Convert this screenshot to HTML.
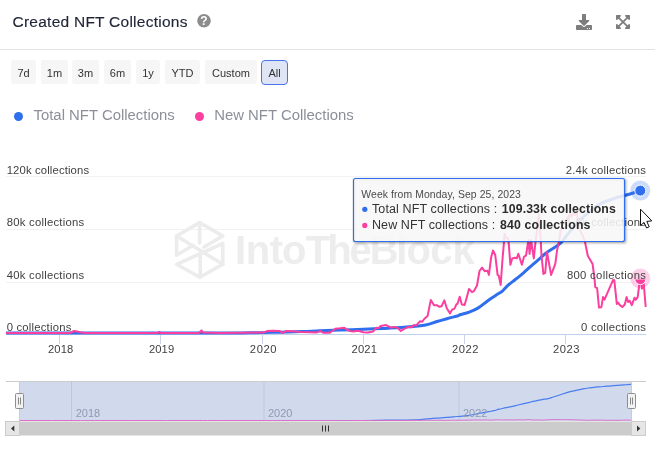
<!DOCTYPE html>
<html><head><meta charset="utf-8">
<style>
html,body{margin:0;padding:0;background:#fff;}
body{width:655px;height:464px;overflow:hidden;position:relative;font-family:"Liberation Sans",sans-serif;color:#333;}
.title{position:absolute;left:12.5px;top:12px;font-size:15.5px;letter-spacing:0.25px;color:#1f2437;line-height:20px;white-space:nowrap;-webkit-text-stroke:0.15px #1f2437;}
.hr{position:absolute;left:0;top:49px;width:655px;height:1px;background:#e3e3e3;}
.btn{position:absolute;top:60px;height:24px;line-height:27px;font-size:11px;color:#333;background:#f6f6f6;border-radius:3px;text-align:center;}
.btn.act{background:#e0e5f5;border:1.5px solid #4a74ee;box-sizing:border-box;line-height:25px;top:59.5px;height:25px;border-radius:4px;}
.leg{position:absolute;top:105.7px;font-size:14.9px;color:#8c8f98;line-height:18px;white-space:nowrap;}
.dot{position:absolute;width:9px;height:9px;border-radius:50%;top:112px;}
svg{position:absolute;left:0;top:0;}
</style></head><body>
<div class="title">Created NFT Collections</div>
<div class="hr"></div>
<div class="btn" style="left:11px;width:25px;">7d</div>
<div class="btn" style="left:41px;width:27px;">1m</div>
<div class="btn" style="left:72px;width:27px;">3m</div>
<div class="btn" style="left:104px;width:27px;">6m</div>
<div class="btn" style="left:136px;width:24px;">1y</div>
<div class="btn" style="left:165px;width:35px;">YTD</div>
<div class="btn" style="left:205px;width:52px;">Custom</div>
<div class="btn act" style="left:261px;width:27px;">All</div>
<div class="dot" style="left:14px;background:#2f6fed;"></div>
<div class="leg" style="left:33.5px;">Total NFT Collections</div>
<div class="dot" style="left:194.7px;background:#fa3f9f;"></div>
<div class="leg" style="left:214.2px;">New NFT Collections</div>
<svg width="655" height="464" viewBox="0 0 655 464" font-family="Liberation Sans, sans-serif">
<rect x="6" y="176" width="640" height="1" fill="#f1f2f4"/>
<rect x="6" y="229" width="640" height="1" fill="#f1f2f4"/>
<rect x="6" y="282" width="640" height="1" fill="#f1f2f4"/>
<g fill="none" stroke="#ececec" stroke-width="3.6" stroke-linejoin="round" stroke-linecap="round"><path d="M176.6 255 L176.6 236 L199.6 222.6 L222.8 236 L204 247"/><path d="M199.6 222.6 L199.6 243"/><path d="M176.6 236 L222.8 264.3"/><path d="M176.6 255 L193 245.5"/><path d="M176.6 264.3 L222.8 243.5 L222.8 264.3 L199.8 277.3 Z"/><path d="M200.2 255 L200.2 277.3"/></g>
<text y="264.1" font-size="40" font-weight="700" fill="#ededed" x="234.9 245.8 269.65 282 305.8 327.15 349.6 369.75 396.35 406.45 430.25 452.4">IntoTheBlock</text>
<rect x="6" y="334" width="640" height="1" fill="#c3d0ea"/>
<rect x="59" y="334" width="1" height="10" fill="#c9d4ec"/>
<rect x="160" y="334" width="1" height="10" fill="#c9d4ec"/>
<rect x="262" y="334" width="1" height="10" fill="#c9d4ec"/>
<rect x="363" y="334" width="1" height="10" fill="#c9d4ec"/>
<rect x="464" y="334" width="1" height="10" fill="#c9d4ec"/>
<rect x="565" y="334" width="1" height="10" fill="#c9d4ec"/>
<path d="M6.0 333.1 C38.3 333.1 159.3 333.1 200.0 333.1 C240.7 333.0 236.7 332.9 250.0 332.8 C263.3 332.7 271.2 332.4 280.0 332.2 C288.8 332.0 296.0 331.7 302.7 331.5 C309.4 331.3 313.8 331.0 320.0 330.8 C326.2 330.6 332.8 330.4 340.0 330.1 C347.2 329.9 356.4 329.6 363.5 329.3 C370.6 329.0 375.9 328.8 382.7 328.5 C389.4 328.2 396.9 327.9 404.0 327.3 C411.1 326.7 420.1 326.0 425.5 325.1 C430.9 324.2 432.6 322.9 436.2 321.8 C439.8 320.7 443.3 319.7 446.9 318.7 C450.4 317.7 455.3 316.6 457.5 316.0 C459.7 315.4 458.1 315.4 460.0 314.8 C461.9 314.2 466.1 313.4 469.2 312.2 C472.2 311.0 475.2 309.8 478.3 307.9 C481.4 306.0 484.4 303.2 487.5 301.0 C490.6 298.8 494.2 296.4 496.6 294.8 C499.0 293.2 500.3 292.8 502.1 291.3 C503.9 289.8 505.5 287.5 507.6 285.6 C509.8 283.7 512.2 281.9 515.0 279.7 C517.8 277.5 521.1 274.9 524.1 272.3 C527.1 269.7 530.5 266.6 533.3 264.2 C536.0 261.8 538.5 259.7 540.6 257.8 C542.7 255.9 543.7 254.8 546.1 253.0 C548.5 251.2 552.7 248.8 555.3 247.0 C557.9 245.2 559.0 244.8 561.7 241.9 C564.4 239.0 568.1 233.5 571.5 229.5 C574.9 225.5 578.4 221.4 582.0 218.0 C585.6 214.6 589.9 211.4 593.0 209.0 C596.1 206.6 597.0 205.4 600.9 203.5 C604.8 201.6 612.2 199.1 616.2 197.8 C620.2 196.5 620.9 196.7 625.0 195.5 C629.1 194.3 637.6 191.6 641.0 190.6 C644.4 189.6 644.8 189.8 645.5 189.6" fill="none" stroke="#2f6fed" stroke-width="3" stroke-linejoin="round" stroke-linecap="butt"/>
<path d="M6.0 333.0 L40.0 333.0 L70.0 333.0 L72.0 332.0 L74.0 331.0 L77.0 331.5 L81.0 332.5 L85.0 333.0 L120.0 333.0 L157.8 333.0 L159.3 331.9 L160.8 333.0 L199.0 333.0 L201.5 330.4 L203.0 332.6 L220.0 333.0 L240.0 332.8 L263.8 332.4 L267.5 331.0 L273.0 330.8 L279.4 331.0 L283.0 332.8 L285.8 331.1 L293.0 331.2 L300.5 331.9 L317.0 332.4 L320.6 331.1 L323.4 332.8 L329.8 332.8 L335.3 328.7 L340.0 328.3 L344.4 327.8 L346.3 329.3 L350.0 331.0 L353.6 331.6 L358.0 330.8 L363.5 332.2 L368.0 332.4 L373.1 331.6 L376.3 327.7 L378.5 328.1 L380.6 326.0 L386.0 325.1 L391.3 327.7 L394.5 326.9 L397.7 328.1 L400.9 330.9 L404.1 328.8 L408.4 326.9 L411.6 327.3 L413.7 325.1 L415.9 325.6 L420.1 321.3 L422.3 321.7 L424.4 318.7 L427.6 316.0 L430.8 299.9 L434.0 305.3 L437.2 305.3 L439.4 306.8 L441.5 306.3 L444.3 300.3 L446.9 308.5 L450.1 313.4 L452.2 309.5 L454.3 308.9 L456.5 304.2 L457.5 303.8 L459.7 296.7 L461.8 304.6 L464.6 305.0 L466.6 298.0 L469.0 288.9 L472.0 292.2 L474.0 291.0 L477.0 285.5 L479.5 271.0 L482.0 267.6 L484.7 271.2 L487.5 270.7 L488.9 274.9 L491.1 257.5 L493.0 250.5 L495.2 254.7 L497.6 274.9 L498.8 275.8 L500.7 285.0 L502.5 259.3 L504.0 241.9 L504.5 233.7 L506.0 238.0 L508.0 238.2 L508.6 241.9 L510.4 264.8 L512.2 258.4 L515.0 257.8 L516.8 258.4 L518.3 253.8 L521.9 264.8 L524.1 256.6 L526.0 255.6 L527.4 246.5 L528.5 240.0 L529.6 253.8 L531.1 240.0 L532.4 249.2 L533.8 258.4 L535.5 241.9 L539.0 214.4 L540.8 241.9 L541.5 255.6 L543.4 274.0 L545.2 273.0 L547.0 252.0 L551.1 274.9 L555.3 263.9 L557.1 250.2 L558.9 241.9 L560.8 230.0 L563.0 224.0 L566.5 220.0 L569.8 214.4 L571.5 217.0 L573.0 213.0 L575.0 215.0 L576.7 211.4 L578.0 222.0 L579.7 229.7 L582.8 235.8 L585.0 242.0 L587.8 255.7 L592.6 264.0 L594.7 280.6 L595.3 287.3 L597.1 287.9 L599.0 307.6 L601.4 307.2 L603.0 297.1 L604.5 299.6 L613.1 279.9 L614.3 280.2 L616.8 303.9 L618.0 302.6 L619.9 305.1 L622.3 307.0 L624.8 304.5 L626.6 297.1 L628.1 302.0 L629.7 300.8 L631.8 305.1 L634.6 297.7 L635.8 299.6 L637.7 297.1 L639.3 284.5 L640.0 281.0 L641.0 281.0 L642.0 288.5 L643.8 284.2 L645.7 307.0" fill="none" stroke="#fa3f9f" stroke-width="2" stroke-linejoin="round" stroke-linecap="butt"/>
<circle cx="640.3" cy="190.6" r="10" fill="#2f6fed" fill-opacity="0.25"/>
<circle cx="640.3" cy="190.6" r="5.5" fill="#2f6fed" stroke="#fff" stroke-width="1"/>
<circle cx="640.3" cy="278.5" r="10" fill="#fa3f9f" fill-opacity="0.25"/>
<clipPath id="cp"><rect x="630" y="279.4" width="20" height="10"/></clipPath>
<circle cx="640.3" cy="279" r="5.6" fill="#fa3f9f" stroke="#fff" stroke-width="1" clip-path="url(#cp)"/>
<text x="6.7" y="173.8" textLength="82.4" font-size="11.3" fill="#3f3f3f" lengthAdjust="spacing">120k collections</text>
<text x="6.7" y="225.8" textLength="77.5" font-size="11.3" fill="#3f3f3f" lengthAdjust="spacing">80k collections</text>
<text x="6.7" y="278.8" textLength="77.5" font-size="11.3" fill="#3f3f3f" lengthAdjust="spacing">40k collections</text>
<text x="6.7" y="330.7" textLength="64.6" font-size="11.3" fill="#3f3f3f" lengthAdjust="spacing">0 collections</text>
<text x="565.7" y="173.7" textLength="80.2" font-size="11.3" fill="#3f3f3f" lengthAdjust="spacing">2.4k collections</text>
<text x="565.7" y="225.8" textLength="80.2" font-size="11.3" fill="#3f3f3f" lengthAdjust="spacing">1.6k collections</text>
<text x="566.9" y="278.8" textLength="79.0" font-size="11.3" fill="#3f3f3f" lengthAdjust="spacing">800 collections</text>
<text x="581.1" y="330.6" textLength="64.8" font-size="11.3" fill="#3f3f3f" lengthAdjust="spacing">0 collections</text>
<text x="48.0" y="352.9" font-size="11.2" fill="#3f3f3f" textLength="25.3" lengthAdjust="spacing">2018</text>
<text x="148.9" y="352.9" font-size="11.2" fill="#3f3f3f" textLength="25.3" lengthAdjust="spacing">2019</text>
<text x="249.8" y="352.9" font-size="11.2" fill="#3f3f3f" textLength="26.8" lengthAdjust="spacing">2020</text>
<text x="351.6" y="352.9" font-size="11.2" fill="#3f3f3f" textLength="25.3" lengthAdjust="spacing">2021</text>
<text x="451.9" y="352.9" font-size="11.2" fill="#3f3f3f" textLength="26.6" lengthAdjust="spacing">2022</text>
<text x="553.0" y="352.9" font-size="11.2" fill="#3f3f3f" textLength="26.6" lengthAdjust="spacing">2023</text>
<rect x="354.5" y="179.5" width="271" height="63" rx="2" fill="none" stroke="#000" stroke-opacity="0.05" stroke-width="5"/>
<rect x="354.5" y="179.5" width="271" height="63" rx="2" fill="none" stroke="#000" stroke-opacity="0.09" stroke-width="3"/>
<rect x="354.5" y="179.5" width="271" height="63" rx="2" fill="none" stroke="#000" stroke-opacity="0.14" stroke-width="1"/>
<rect x="353.5" y="178.5" width="271" height="63" rx="2" fill="#f7f7f7" fill-opacity="0.88" stroke="#2f6fed" stroke-width="1.15"/>
<text x="361.3" y="198" font-size="10.4" fill="#4a4a4a" textLength="159.5" lengthAdjust="spacing">Week from Monday, Sep 25, 2023</text>
<circle cx="364.8" cy="209.3" r="2.6" fill="#2f6fed"/>
<text x="372" y="213.2" font-size="12.5" fill="#333" textLength="125.3" lengthAdjust="spacing">Total NFT collections :</text>
<text x="501.8" y="213.2" font-size="12.3" font-weight="700" fill="#2b2b2b" textLength="114" lengthAdjust="spacing">109.33k collections</text>
<circle cx="364.8" cy="225.4" r="2.6" fill="#fa3f9f"/>
<text x="372" y="228.8" font-size="12.5" fill="#333" textLength="123.2" lengthAdjust="spacing">New NFT collections :</text>
<text x="499.9" y="228.8" font-size="12.3" font-weight="700" fill="#2b2b2b" textLength="90.5" lengthAdjust="spacing">840 collections</text>
<path d="M640.5 209.2 L640.5 225.6 L644 222.4 L646.6 228 L649.2 226.8 L646.8 221.4 L651.8 220.9 Z" fill="#fff" stroke="#111" stroke-width="1" stroke-linejoin="round"/>
<rect x="19.5" y="381.5" width="612" height="39.5" fill="#d1daed"/>
<rect x="71.0" y="382" width="1" height="38" fill="#bfc8da"/>
<rect x="263.5" y="382" width="1" height="38" fill="#bfc8da"/>
<rect x="458.5" y="382" width="1" height="38" fill="#bfc8da"/>
<clipPath id="nc"><rect x="19.5" y="382" width="612" height="39"/></clipPath>
<path d="M19.0 421.5 C49.9 421.5 165.8 421.5 204.7 421.5 C243.6 421.5 239.8 421.5 252.6 421.4 C265.3 421.4 272.9 421.3 281.3 421.3 C289.7 421.2 296.6 421.2 303.0 421.1 C309.4 421.1 313.6 421.0 319.6 420.9 C325.5 420.9 331.8 420.8 338.7 420.7 C345.6 420.7 354.4 420.6 361.2 420.5 C368.0 420.5 373.1 420.4 379.6 420.3 C386.0 420.2 393.1 420.2 400.0 420.0 C406.8 419.9 415.4 419.7 420.5 419.5 C425.7 419.2 427.4 418.9 430.8 418.6 C434.2 418.3 437.6 418.1 441.0 417.8 C444.4 417.5 449.1 417.3 451.2 417.1 C453.3 416.9 451.7 417.0 453.6 416.8 C455.4 416.6 459.4 416.4 462.4 416.1 C465.3 415.8 468.2 415.5 471.1 415.0 C474.0 414.5 477.0 413.8 479.9 413.2 C482.8 412.7 486.3 412.0 488.6 411.6 C490.9 411.2 492.1 411.1 493.9 410.7 C495.6 410.3 497.1 409.7 499.1 409.2 C501.2 408.7 503.6 408.3 506.2 407.7 C508.8 407.1 512.0 406.5 514.9 405.8 C517.8 405.1 521.1 404.3 523.7 403.7 C526.4 403.1 528.7 402.5 530.7 402.0 C532.8 401.6 533.6 401.3 536.0 400.8 C538.3 400.3 542.3 399.7 544.8 399.2 C547.3 398.8 548.3 398.7 550.9 397.9 C553.5 397.2 557.1 395.8 560.3 394.7 C563.5 393.7 566.9 392.6 570.3 391.7 C573.8 390.9 577.9 390.0 580.9 389.4 C583.9 388.8 584.7 388.5 588.4 388.0 C592.1 387.5 599.2 386.9 603.1 386.5 C606.9 386.2 607.5 386.2 611.5 385.9 C615.5 385.6 623.5 384.9 626.8 384.7 C630.1 384.4 630.4 384.4 631.1 384.4" fill="none" stroke="#4a7df0" stroke-width="1.2" clip-path="url(#nc)"/>
<path d="M19.0 420.5 L51.5 420.5 L80.3 420.5 L82.2 420.5 L84.1 420.5 L87.0 420.5 L90.8 420.5 L94.6 420.5 L128.1 420.5 L164.3 420.5 L165.7 420.5 L167.2 420.5 L203.7 420.5 L206.1 420.5 L207.6 420.5 L223.8 420.5 L243.0 420.5 L265.8 420.5 L269.3 420.5 L274.6 420.5 L280.7 420.5 L284.1 420.5 L286.8 420.5 L293.7 420.5 L300.9 420.5 L316.7 420.5 L320.1 420.5 L322.8 420.5 L328.9 420.5 L334.2 420.5 L338.7 420.5 L342.9 420.5 L344.7 420.5 L348.3 420.5 L351.7 420.5 L355.9 420.5 L361.2 420.5 L365.5 420.5 L370.4 420.5 L373.4 420.5 L375.6 420.5 L377.6 420.4 L382.7 420.4 L387.8 420.5 L390.9 420.5 L393.9 420.5 L397.0 420.5 L400.1 420.5 L404.2 420.5 L407.2 420.5 L409.2 420.4 L411.4 420.4 L415.4 420.4 L417.5 420.4 L419.5 420.4 L422.6 420.4 L425.6 420.2 L428.7 420.3 L431.7 420.3 L433.8 420.3 L435.9 420.3 L438.5 420.3 L441.0 420.3 L444.1 420.4 L446.1 420.3 L448.1 420.3 L450.2 420.3 L451.2 420.3 L453.3 420.2 L455.3 420.3 L458.0 420.3 L459.9 420.2 L462.2 420.2 L465.0 420.2 L467.0 420.2 L469.8 420.1 L472.2 420.0 L474.6 420.0 L477.2 420.0 L479.9 420.0 L481.2 420.1 L483.3 419.9 L485.2 419.9 L487.3 419.9 L489.6 420.1 L490.7 420.1 L492.5 420.1 L494.2 419.9 L495.7 419.8 L496.2 419.7 L497.6 419.8 L499.5 419.8 L500.1 419.8 L501.8 420.0 L503.5 419.9 L506.2 419.9 L507.9 419.9 L509.4 419.9 L512.8 420.0 L514.9 419.9 L516.7 419.9 L518.1 419.8 L519.1 419.8 L520.2 419.9 L521.6 419.8 L522.9 419.9 L524.2 419.9 L525.8 419.8 L529.2 419.6 L530.9 419.8 L531.6 419.9 L533.4 420.0 L535.1 420.0 L536.8 419.9 L540.8 420.1 L544.8 420.0 L546.5 419.9 L548.2 419.8 L550.0 419.7 L552.2 419.7 L555.5 419.6 L558.7 419.6 L560.3 419.6 L561.7 419.6 L563.6 419.6 L565.3 419.6 L566.5 419.7 L568.1 419.7 L571.1 419.8 L573.2 419.8 L575.9 419.9 L580.5 420.0 L582.5 420.1 L583.1 420.2 L584.8 420.2 L586.6 420.3 L588.9 420.3 L590.4 420.2 L591.9 420.2 L600.1 420.1 L601.3 420.1 L603.7 420.3 L604.8 420.3 L606.6 420.3 L608.9 420.3 L611.3 420.3 L613.0 420.2 L614.5 420.3 L616.0 420.3 L618.0 420.3 L620.7 420.2 L621.8 420.2 L623.7 420.2 L625.2 420.1 L625.9 420.1 L626.8 420.1 L627.8 420.2 L629.5 420.1 L631.3 420.3" fill="none" stroke="#d96fc8" stroke-width="1" clip-path="url(#nc)"/>
<text x="75.7" y="416.7" font-size="11" fill="#8f99b0">2018</text>
<text x="268" y="416.7" font-size="11" fill="#8f99b0">2020</text>
<text x="463" y="416.7" font-size="11" fill="#8f99b0">2022</text>
<rect x="6" y="381" width="640" height="1" fill="#cccccc"/>
<rect x="19" y="381" width="1" height="40" fill="#cccccc"/>
<rect x="631" y="381" width="1" height="40" fill="#cccccc"/>
<rect x="15.5" y="393.5" width="8" height="15" rx="1" fill="#f2f2f2" stroke="#8e8e8e" stroke-width="1"/>
<path d="M18.5 397.5 V404.5 M20.5 397.5 V404.5" stroke="#888" stroke-width="1" fill="none"/>
<rect x="627.5" y="393.5" width="8" height="15" rx="1" fill="#f2f2f2" stroke="#8e8e8e" stroke-width="1"/>
<path d="M630.5 397.5 V404.5 M632.5 397.5 V404.5" stroke="#888" stroke-width="1" fill="none"/>
<rect x="5.5" y="421.5" width="640" height="14" fill="#cccccc"/>
<rect x="5.5" y="421.5" width="14" height="14" fill="#e6e6e6" stroke="#cccccc"/>
<rect x="631.5" y="421.5" width="14" height="14" fill="#e6e6e6" stroke="#cccccc"/>
<path d="M14.3 425.5 L14.3 431.5 L11 428.5 Z" fill="#333"/>
<path d="M637 425.5 L637 431.5 L640.3 428.5 Z" fill="#333"/>
<path d="M322.5 425.5 V431.5 M325.5 425.5 V431.5 M328.5 425.5 V431.5" stroke="#333" stroke-width="1"/>
<path transform="translate(576 14) scale(0.03125)" fill="#7d7d7d" d="M216 0h80c13.3 0 24 10.7 24 24v168h87.7c17.8 0 26.7 21.5 14.1 34.1L269.7 378.3c-7.5 7.5-19.8 7.5-27.3 0L90.1 226.1c-12.6-12.6-3.7-34.1 14.1-34.1H192V24c0-13.3 10.7-24 24-24zm296 376v112c0 13.3-10.7 24-24 24H24c-13.3 0-24-10.7-24-24V376c0-13.3 10.7-24 24-24h146.7l49 49c20.1 20.1 52.5 20.1 72.6 0l49-49H488c13.3 0 24 10.7 24 24zm-124 88c0-11-9-20-20-20s-20 9-20 20 9 20 20 20 20-9 20-20zm64 0c0-11-9-20-20-20s-20 9-20 20 9 20 20 20 20-9 20-20z"/>
<path transform="translate(616 14) scale(0.03125)" fill="#7d7d7d" d="M448 344v112a23.94 23.94 0 0 1-24 24H312c-21.39 0-32.09-25.9-17-41l36.2-36.2L224 295.6 116.77 402.9 153 439c15.09 15.1 4.39 41-17 41H24a23.94 23.94 0 0 1-24-24V344c0-21.4 25.89-32.1 41-17l36.19 36.2L184.46 256 77.18 148.7 41 185c-15.1 15.1-41 4.4-41-17V56a23.94 23.94 0 0 1 24-24h112c21.39 0 32.09 25.9 17 41l-36.2 36.2L224 216.4l107.23-107.3L295 73c-15.09-15.1-4.39-41 17-41h112a23.94 23.94 0 0 1 24 24v112c0 21.4-25.89 32.1-41 17l-36.19-36.2L263.54 256l107.28 107.3L407 327.1c15.1-15.2 41-4.5 41 16.9z"/>
<circle cx="204" cy="20.8" r="6.8" fill="#8c8c8c"/>
<text x="204" y="25.3" text-anchor="middle" font-size="12" font-weight="700" fill="#fff">?</text>
</svg>
</body></html>
